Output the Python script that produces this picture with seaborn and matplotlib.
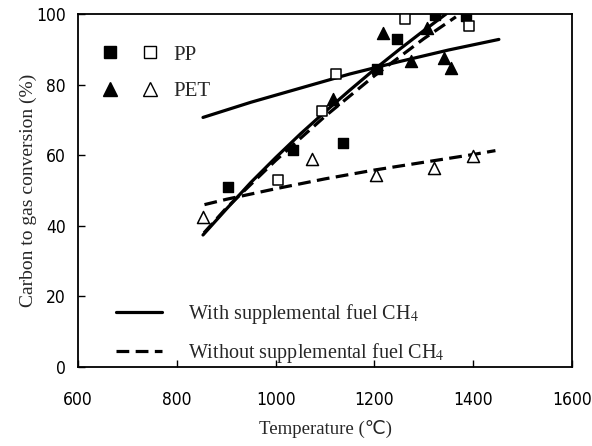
import matplotlib
matplotlib.use('Agg')
import matplotlib.pyplot as plt
import seaborn as sns
import pandas as pd
from matplotlib.lines import Line2D
from matplotlib.legend_handler import HandlerTuple

sns.set_style('ticks')
plt.rcParams['font.family'] = ['Liberation Serif', 'DejaVu Sans']
plt.rcParams['mathtext.fontset'] = 'stix'

# ---- measured points ----
pp_with_T = [903, 1036, 1137, 1205, 1245, 1323, 1385]
pp_with_Y = [51, 61.5, 63.4, 84.5, 93, 99.7, 99.5]
pp_without_T = [1004, 1093, 1123, 1262, 1392]
pp_without_Y = [53, 72.5, 83, 98.5, 96.7]
pet_with_T = [1117, 1217, 1274, 1306, 1341, 1355]
pet_with_Y = [76, 94.5, 86.7, 96, 87.5, 84.6]
pet_without_T = [854, 1074, 1204, 1321, 1399]
pet_without_Y = [42.6, 58.8, 54.4, 56.3, 59.8]

# ---- fitted curves ----
steep_with_T = [853, 900, 950, 1000, 1050, 1100, 1150, 1200, 1250, 1300, 1345]
steep_with_Y = [37.4, 44.7, 52.3, 59.3, 66.0, 72.3, 78.4, 84.3, 89.9, 95.3, 100]
steep_without_T = [855, 900, 1000, 1100, 1200, 1300, 1365]
steep_without_Y = [38, 45, 58.5, 71, 82.5, 93, 99.2]
gentle_with_T = [853, 950, 1050, 1150, 1250, 1350, 1452]
gentle_with_Y = [70.7, 75, 79, 83, 86.5, 89.8, 92.8]
gentle_without_T = [856, 900, 1000, 1100, 1200, 1300, 1400, 1445]
gentle_without_Y = [46, 47.5, 50.5, 53.3, 55.8, 58, 60.2, 61.3]

x_ticks = [600, 800, 1000, 1200, 1400, 1600]
y_ticks = [0, 20, 40, 60, 80, 100]

fig = plt.figure(figsize=(5.92, 4.46), dpi=100)
ax = fig.add_axes([0.1318, 0.1771, 0.8344, 0.7915])

LW = 2.3
DASH = (4, 2)
sns.lineplot(x=steep_with_T, y=steep_with_Y, color='black', lw=LW, ax=ax, estimator=None, sort=False)
sns.lineplot(x=gentle_with_T, y=gentle_with_Y, color='black', lw=LW, ax=ax, estimator=None, sort=False)
sns.lineplot(x=steep_without_T, y=steep_without_Y, color='black', lw=LW, ax=ax, estimator=None, sort=False)
ax.lines[-1].set_dashes(DASH)
sns.lineplot(x=gentle_without_T, y=gentle_without_Y, color='black', lw=LW, ax=ax, estimator=None, sort=False)
ax.lines[-1].set_dashes(DASH)

sns.scatterplot(x=pp_with_T, y=pp_with_Y, marker='s', s=55, color='black', edgecolor='black', linewidth=1, ax=ax, zorder=3)
sns.scatterplot(x=pp_without_T, y=pp_without_Y, marker='s', s=55, color='white', edgecolor='black', linewidth=1.1, ax=ax, zorder=3)
sns.scatterplot(x=pet_with_T, y=pet_with_Y, marker='^', s=75, color='black', edgecolor='black', linewidth=1, ax=ax, zorder=3)
sns.scatterplot(x=pet_without_T, y=pet_without_Y, marker='^', s=75, color='white', edgecolor='black', linewidth=1.1, ax=ax, zorder=3)

ax.set_xlim(600, 1600)
ax.set_ylim(0, 100)
ax.set_xticks(x_ticks)
ax.set_yticks(y_ticks)
ax.set_xticklabels([str(v) for v in x_ticks])
ax.set_yticklabels([str(v) for v in y_ticks])
ax.tick_params(direction='in', length=5, width=1, colors='black')
ax.tick_params(axis='x', pad=17)
ax.tick_params(axis='y', pad=9)
for lab in ax.get_xticklabels() + ax.get_yticklabels():
    lab.set_fontfamily(['Liberation Sans Narrow', 'DejaVu Sans'])
    lab.set_fontstretch('condensed')
    lab.set_fontsize(12.5)
for sp in ax.spines.values():
    sp.set_visible(True)
    sp.set_linewidth(1.3)
    sp.set_color('black')

ax.set_xlabel('Temperature (℃)', fontsize=13.5, labelpad=8)
ax.set_ylabel('Carbon to gas conversion (%)', fontsize=14, labelpad=-1)

# legend of markers
h_fs = Line2D([], [], marker='s', color='black', ls='none', markersize=8)
h_os = Line2D([], [], marker='s', markerfacecolor='white', markeredgecolor='black', ls='none', markersize=8)
h_ft = Line2D([], [], marker='^', color='black', ls='none', markersize=10)
h_ot = Line2D([], [], marker='^', markerfacecolor='white', markeredgecolor='black', ls='none', markersize=10)
leg1 = ax.legend([(h_fs, h_os), (h_ft, h_ot)], ['PP', 'PET'],
                 handler_map={tuple: HandlerTuple(ndivide=None, pad=1.2)},
                 loc='upper left', bbox_to_anchor=(0.012, 0.965), frameon=False,
                 fontsize=15, handlelength=2.6, handletextpad=0.8, labelspacing=0.8)
ax.add_artist(leg1)

h_solid = Line2D([], [], color='black', lw=LW)
h_dash = Line2D([], [], color='black', lw=LW, dashes=DASH)
ax.legend([h_solid, h_dash], ['With supplemental fuel CH$_4$', 'Without supplemental fuel CH$_4$'],
          loc='lower left', bbox_to_anchor=(0.04, -0.045), frameon=False,
          fontsize=14.5, handlelength=2.3, handletextpad=1.3, labelspacing=0.75)

fig.savefig('out.png', dpi=100)
